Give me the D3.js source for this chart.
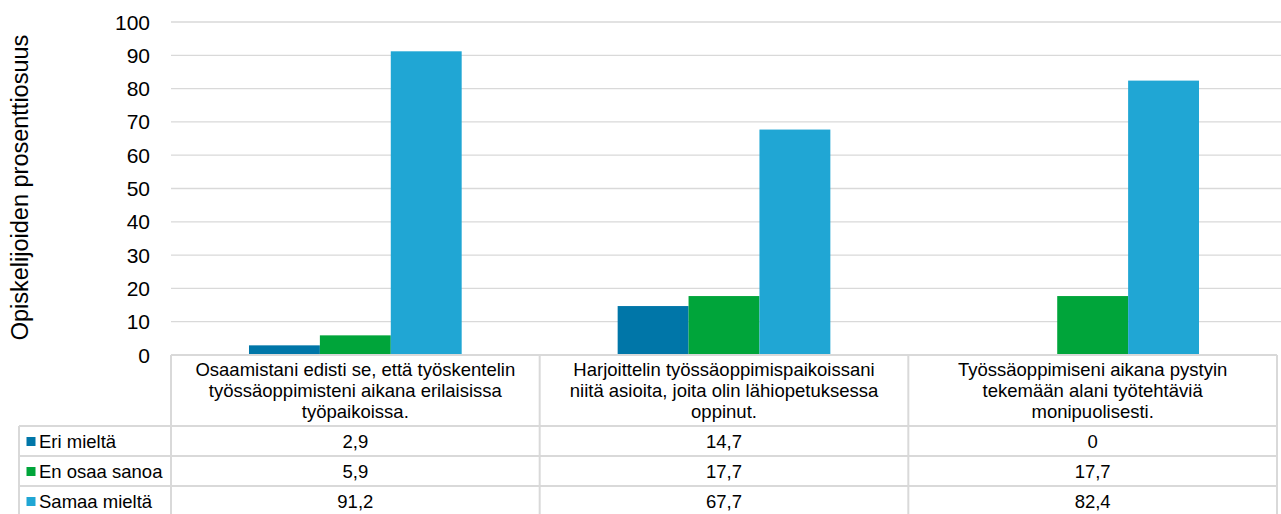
<!DOCTYPE html>
<html><head><meta charset="utf-8">
<script src="https://cdn.jsdelivr.net/npm/d3@7"></script>
<style>body{margin:0;background:#fff}svg{display:block}text{font-family:"Liberation Sans",Arial,sans-serif;fill:#000}</style>
</head><body>
<script>
const categories = [
  ["Osaamistani edisti se, että työskentelin", "työssäoppimisteni aikana erilaisissa", "työpaikoissa."],
  ["Harjoittelin työssäoppimispaikoissani", "niitä asioita, joita olin lähiopetuksessa", "oppinut."],
  ["Työssäoppimiseni aikana pystyin", "tekemään alani työtehtäviä", "monipuolisesti."]
];
const seriesNames = ["Eri mieltä", "En osaa sanoa", "Samaa mieltä"];
const eriMielta = [2.9, 14.7, 0];
const enOsaaSanoa = [5.9, 17.7, 17.7];
const samaaMielta = [91.2, 67.7, 82.4];
const valueLabels = [["2,9","14,7","0"],["5,9","17,7","17,7"],["91,2","67,7","82,4"]];
const yTicks = [0,10,20,30,40,50,60,70,80,90,100];
const colors = ["#0076A8", "#00A53A", "#20A6D4"];
const yTitle = "Opiskelijoiden prosenttiosuus";

(function () {
const series = [eriMielta, enOsaaSanoa, samaaMielta];
const W = 1281, H = 514;
const pLeft = 171, pRight = 1277, pTop = 22, base = 355;
const gridColor = "#d9d9d9";

const svg = d3.select("body").append("svg").attr("width", W).attr("height", H);

const x0 = d3.scaleBand().domain(d3.range(categories.length)).range([pLeft, pRight]).paddingInner(0).paddingOuter(0);
const x1 = d3.scaleBand().domain(d3.range(series.length)).range([0, x0.bandwidth()]).paddingInner(0).paddingOuter(1.1);
const y = d3.scaleLinear().domain([0, 100]).range([base, pTop]);

// gridlines
svg.append("g").selectAll("line").data(yTicks.filter(d => d > 0)).join("line")
  .attr("x1", pLeft).attr("x2", W).attr("y1", d => y(d)).attr("y2", d => y(d))
  .attr("stroke", gridColor).attr("stroke-width", 1.3);

// y tick labels
svg.append("g").selectAll("text").data(yTicks).join("text")
  .attr("x", 150).attr("y", d => y(d)).attr("dy", "0.36em")
  .attr("text-anchor", "end").attr("font-size", 21).text(d => d);

// y title
svg.append("text").attr("transform", `translate(28,187.5) rotate(-90)`)
  .attr("text-anchor", "middle").attr("font-size", 23.5).text(yTitle);

// bars
series.forEach((s, si) => {
  svg.append("g").selectAll("rect").data(s).join("rect")
    .attr("x", (d, i) => x0(i) + x1(si))
    .attr("width", x1.bandwidth())
    .attr("y", d => y(d)).attr("height", d => base - y(d))
    .attr("fill", colors[si]);
});

// table
const tableLeft = 19;
const rowTops = [base, 426, 456, 486, 516];
const tg = svg.append("g");
const hl = (xa, xb, yy) => tg.append("line").attr("x1", xa).attr("x2", xb).attr("y1", yy).attr("y2", yy).attr("stroke", gridColor).attr("stroke-width", 2);
const vl = (xx, ya, yb) => tg.append("line").attr("x1", xx).attr("x2", xx).attr("y1", ya).attr("y2", yb).attr("stroke", gridColor).attr("stroke-width", 2);
hl(pLeft, pRight, rowTops[0]);
for (let r = 1; r < rowTops.length; r++) hl(tableLeft, pRight, rowTops[r]);
vl(tableLeft, rowTops[1], rowTops[4]);
for (let c = 0; c <= categories.length; c++) {
  const xx = c < categories.length ? x0(c) : pRight;
  vl(xx, rowTops[0], rowTops[4]);
}
// header text
categories.forEach((lines, ci) => {
  const cx = x0(ci) + x0.bandwidth() / 2;
  lines.forEach((ln, li) => {
    tg.append("text").attr("x", cx).attr("y", 369 + li * 21.3).attr("dy", "0.36em")
      .attr("text-anchor", "middle").attr("font-size", 18.5).text(ln);
  });
});
// rows
seriesNames.forEach((name, si) => {
  const cy = (rowTops[si + 1] + rowTops[si + 2]) / 2;
  tg.append("rect").attr("x", 26.5).attr("y", cy - 4).attr("width", 9).attr("height", 9).attr("fill", colors[si]);
  tg.append("text").attr("x", 39).attr("y", cy).attr("dy", "0.36em").attr("font-size", 18.5).text(name);
  valueLabels[si].forEach((v, ci) => {
    tg.append("text").attr("x", x0(ci) + x0.bandwidth() / 2).attr("y", cy).attr("dy", "0.36em")
      .attr("text-anchor", "middle").attr("font-size", 18.5).text(v);
  });
});
})();
</script>
</body></html>
